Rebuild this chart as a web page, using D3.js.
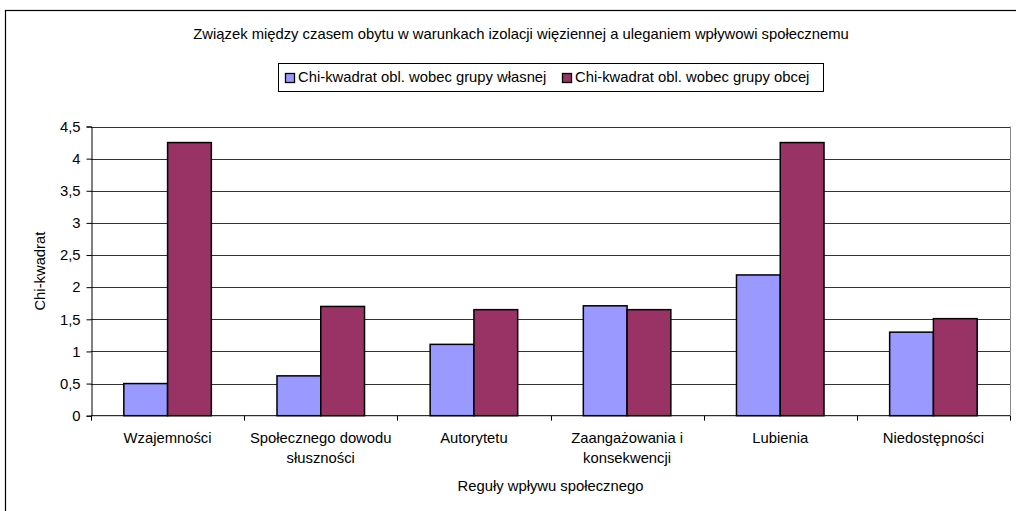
<!DOCTYPE html>
<html><head><meta charset="utf-8">
<script src="https://cdn.jsdelivr.net/npm/d3@7"></script>
<style>body{margin:0;background:#fff;} svg{display:block;font-family:"Liberation Sans",Arial,sans-serif;}</style>
</head><body>
<svg id="c" width="1016" height="511"></svg>
<script>
const categories = [["Wzajemności"],["Społecznego dowodu","słuszności"],["Autorytetu"],["Zaangażowania i","konsekwencji"],["Lubienia"],["Niedostępności"]];
const seriesNames = ["Chi-kwadrat obl. wobec grupy własnej","Chi-kwadrat obl. wobec grupy obcej"];
const ownGroup = [0.50, 0.62, 1.11, 1.71, 2.19, 1.30];
const otherGroup = [4.25, 1.70, 1.65, 1.65, 4.25, 1.51];
const yTicks = [0,0.5,1,1.5,2,2.5,3,3.5,4,4.5];
const colors = ["#9999FF","#993366"];
const title = "Związek między czasem obytu w warunkach izolacji więziennej a uleganiem wpływowi społecznemu";
const xTitle = "Reguły wpływu społecznego";
const yTitle = "Chi-kwadrat";

const FS = 14.8;
const svg = d3.select("#c");
const L=91, R=1010, T=126.5, B=415.7;
svg.append("rect").attr("x",5.5).attr("y",10.5).attr("width",1020).attr("height",520).attr("fill","#fff").attr("stroke","#000").attr("stroke-width",1.2);

const x = d3.scaleBand().domain(d3.range(categories.length)).range([L,R]);
const barW = x.bandwidth()/3.5;
const y = d3.scaleLinear().domain([0,4.5]).range([B,T]);

// gridlines
svg.append("g").selectAll("line").data(yTicks.filter(d=>d>0)).join("line")
  .attr("x1",L).attr("x2",R).attr("y1",d=>Math.round(y(d))+0.5).attr("y2",d=>Math.round(y(d))+0.5)
  .attr("stroke","#333").attr("stroke-width",1);
svg.append("line").attr("x1",R+0.5).attr("x2",R+0.5).attr("y1",T).attr("y2",B).attr("stroke","#888");

// y axis
const ya = svg.append("g").attr("transform",`translate(${L+0.5},0)`)
  .call(d3.axisLeft(y).tickValues(yTicks).tickSize(5).tickPadding(6).tickFormat(d=>String(d).replace(".",",")));
ya.select(".domain").attr("stroke","#000");
ya.selectAll("text").attr("font-size",FS).attr("fill","#000").attr("font-family","Liberation Sans, Arial");

// bars
const data = categories.map((c,i)=>[ownGroup[i],otherGroup[i]]);
const g = svg.append("g");
data.forEach((vals,i)=>{
  vals.forEach((v,s)=>{
    const cx = x(i)+x.bandwidth()/2;
    g.append("rect").attr("x",cx-barW+s*barW).attr("y",y(v)).attr("width",barW).attr("height",B-y(v))
      .attr("fill",colors[s]).attr("stroke","#000").attr("stroke-width",1.5);
  });
});

// x axis
svg.append("line").attr("x1",L).attr("x2",R).attr("y1",B).attr("y2",B).attr("stroke","#000");
svg.append("g").selectAll("line").data(d3.range(categories.length+1)).join("line")
  .attr("x1",d=>Math.round(L+d*x.bandwidth())+0.5).attr("x2",d=>Math.round(L+d*x.bandwidth())+0.5)
  .attr("y1",B).attr("y2",B+5).attr("stroke","#000");
categories.forEach((lines,i)=>{
  const t = svg.append("text").attr("x",x(i)+x.bandwidth()/2).attr("y",443).attr("text-anchor","middle").attr("font-size",FS);
  lines.forEach((ln,k)=>t.append("tspan").attr("x",x(i)+x.bandwidth()/2).attr("dy",k?20:0).text(ln));
});

// titles
svg.append("text").attr("x",521).attr("y",39).attr("text-anchor","middle").attr("font-size",FS).text(title);
svg.append("text").attr("x",(L+R)/2).attr("y",491).attr("text-anchor","middle").attr("font-size",FS).text(xTitle);
svg.append("text").attr("transform",`translate(45,${(T+B)/2}) rotate(-90)`).attr("text-anchor","middle").attr("font-size",FS).text(yTitle);

// legend
const lg = svg.append("g");
lg.append("rect").attr("x",278.5).attr("y",63.5).attr("width",545).attr("height",28).attr("fill","#fff").attr("stroke","#000");
const lx=[285,562];
seriesNames.forEach((n,s)=>{
  lg.append("rect").attr("x",lx[s]+0.5).attr("y",73.5).attr("width",9).attr("height",9).attr("fill",colors[s]).attr("stroke","#000").attr("stroke-width",1.3);
  lg.append("text").attr("x",lx[s]+13).attr("y",82).attr("font-size",FS).text(n);
});
</script>
</body></html>
